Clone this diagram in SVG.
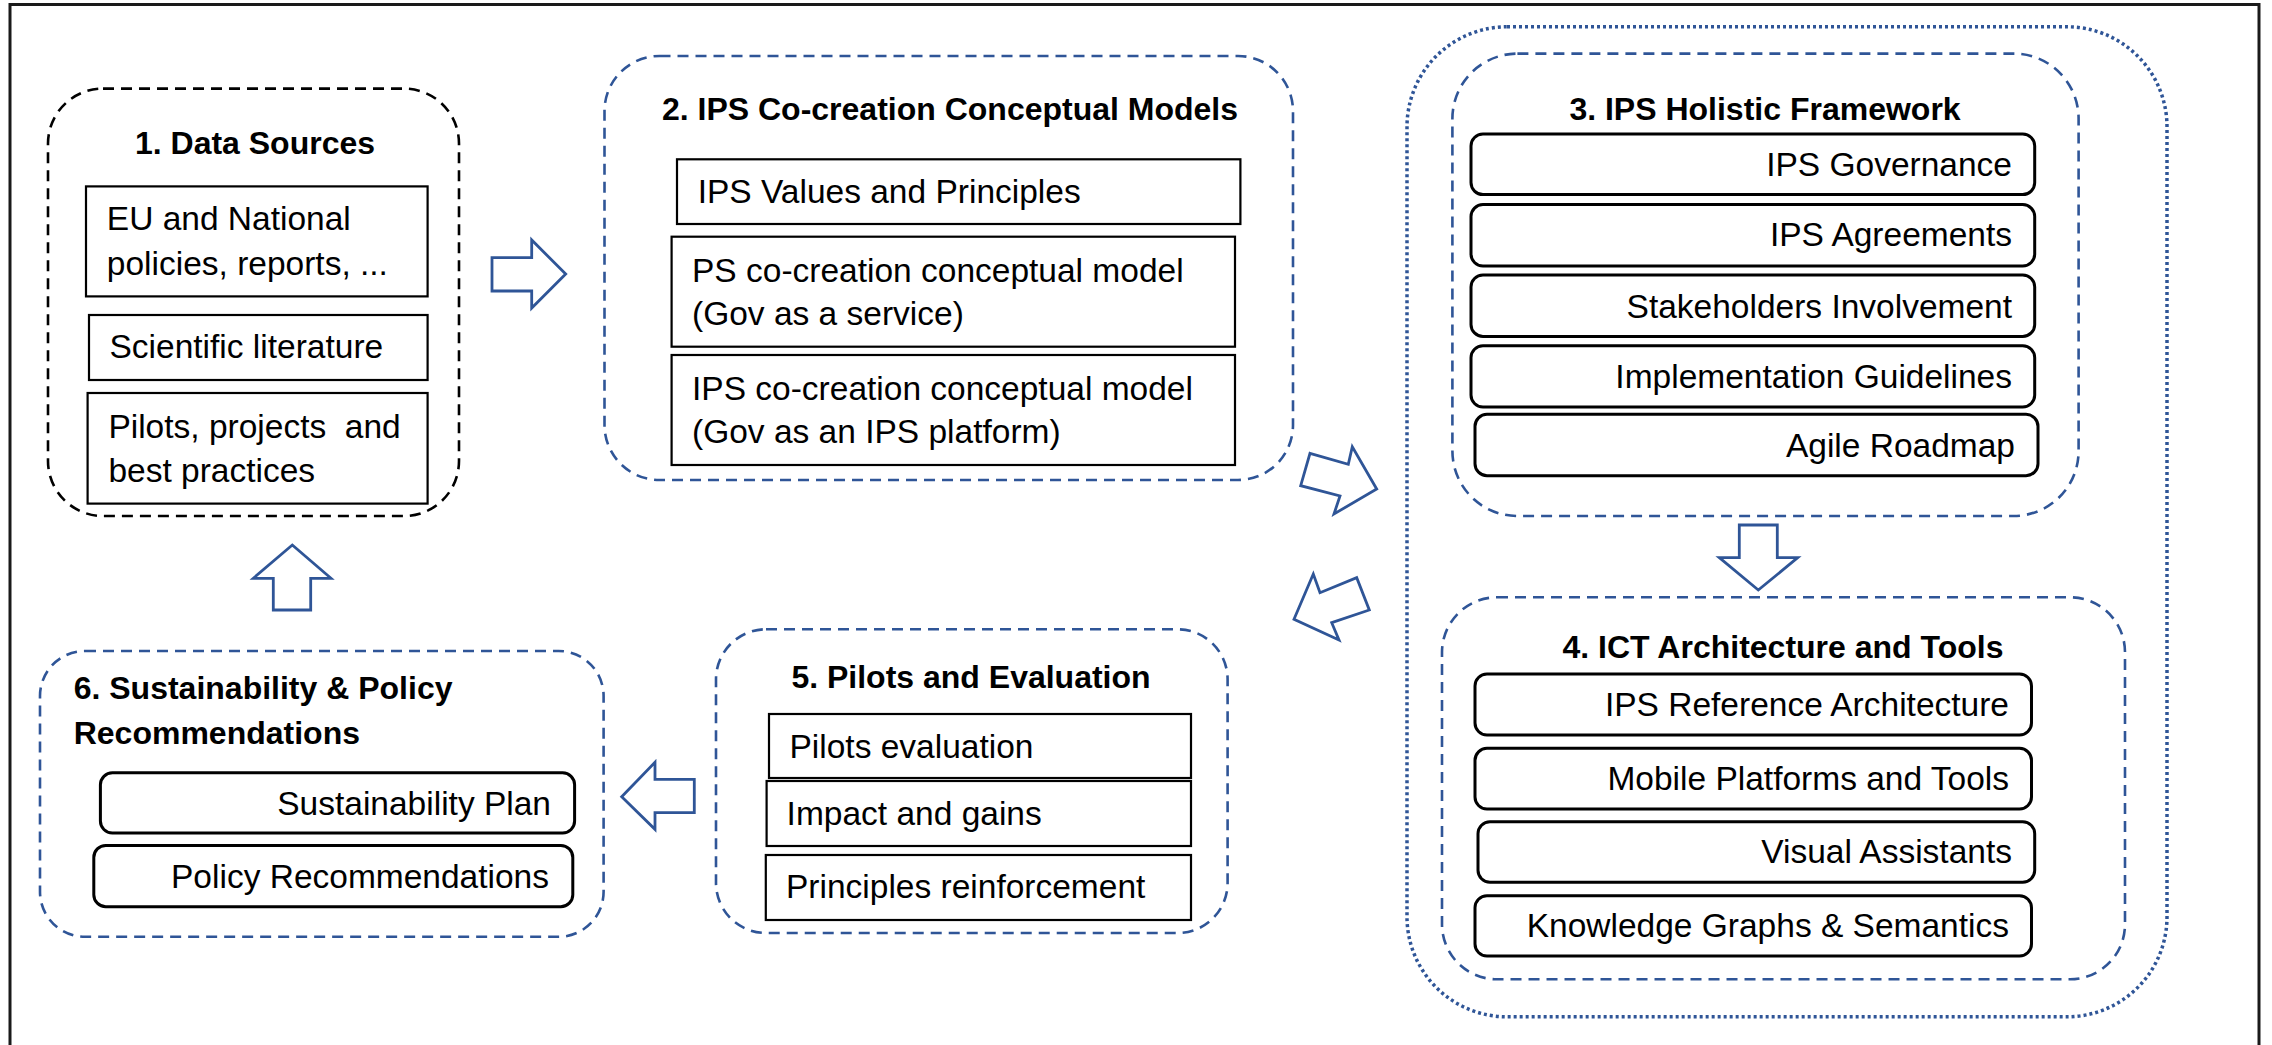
<svg xmlns="http://www.w3.org/2000/svg" width="2272" height="1045" viewBox="0 0 2272 1045">
<style>
.frame{fill:none;stroke:#1a1a1a;stroke-width:3}
.grp{fill:none;stroke:#2F5597;stroke-width:2.6;stroke-dasharray:11 7}
.grpk{fill:none;stroke:#000;stroke-width:2.6;stroke-dasharray:11 7}
.dotted{fill:none;stroke:#2F5597;stroke-width:3.5;stroke-dasharray:3 3}
.item{fill:#fff;stroke:#000;stroke-width:2.2}
.ritem{fill:#fff;stroke:#000;stroke-width:3}
.arrow{fill:#fff;stroke:#2F5597;stroke-width:2.8}
.title{font-family:"Liberation Sans",Arial,sans-serif;font-weight:bold;font-size:32px;fill:#000}
.body{font-family:"Liberation Sans",Arial,sans-serif;font-size:33.5px;fill:#000}
.end{text-anchor:end}
.mid{text-anchor:middle}
</style>
<rect width="2272" height="1045" fill="#fff"/>
<rect class="frame" x="10" y="4.5" width="2249" height="1100"/>

<g id="container-3-4">
<rect class="dotted" x="1407" y="26.8" width="760" height="990" rx="100"/>
</g>

<g id="node-1">
<rect class="grpk" x="48" y="88.6" width="411" height="427.4" rx="55"/>
<text class="title mid" x="255" y="153.6">1. Data Sources</text>
<rect class="item" x="86" y="186.4" width="341.6" height="110"/>
<text class="body" x="106.8" y="230">EU and National</text>
<text class="body" x="106.8" y="275">policies, reports, ...</text>
<rect class="item" x="89" y="315" width="338.6" height="65"/>
<text class="body" x="109.5" y="358">Scientific literature</text>
<rect class="item" x="87.6" y="393" width="340" height="110.6"/>
<text class="body" x="108.4" y="437.5" style="white-space:pre">Pilots, projects  and</text>
<text class="body" x="108.4" y="482">best practices</text>
</g>

<g id="node-2">
<rect class="grp" x="604.5" y="56" width="688.5" height="424" rx="55"/>
<text class="title mid" x="950" y="120">2. IPS Co-creation Conceptual Models</text>
<rect class="item" x="677" y="159.3" width="563.4" height="64.7"/>
<text class="body" x="697.7" y="203">IPS Values and Principles</text>
<rect class="item" x="671.6" y="236.7" width="563.4" height="110"/>
<text class="body" x="692" y="281.7">PS co-creation conceptual model</text>
<text class="body" x="692" y="325">(Gov as a service)</text>
<rect class="item" x="671.6" y="355" width="563.4" height="110"/>
<text class="body" x="692" y="400">IPS co-creation conceptual model</text>
<text class="body" x="692" y="443">(Gov as an IPS platform)</text>
</g>

<g id="node-3">
<rect class="grp" x="1452.4" y="53.6" width="626.2" height="462.4" rx="65"/>
<text class="title mid" x="1765" y="119.6">3. IPS Holistic Framework</text>
<rect class="ritem" x="1471" y="134" width="563.7" height="60.6" rx="12"/>
<text class="body end" x="2012" y="175.7">IPS Governance</text>
<rect class="ritem" x="1471" y="204.6" width="563.7" height="61.4" rx="12"/>
<text class="body end" x="2012" y="246.4">IPS Agreements</text>
<rect class="ritem" x="1471" y="275" width="563.7" height="61.4" rx="12"/>
<text class="body end" x="2012" y="317.9">Stakeholders Involvement</text>
<rect class="ritem" x="1471" y="345.7" width="563.7" height="61.3" rx="12"/>
<text class="body end" x="2012" y="387.5">Implementation Guidelines</text>
<rect class="ritem" x="1475" y="414.3" width="563" height="61.4" rx="12"/>
<text class="body end" x="2015" y="457">Agile Roadmap</text>
</g>

<g id="node-4">
<rect class="grp" x="1442" y="597.3" width="683" height="382" rx="55"/>
<text class="title mid" x="1783" y="658.3">4. ICT Architecture and Tools</text>
<rect class="ritem" x="1475" y="674" width="556.5" height="61" rx="12"/>
<text class="body end" x="2009" y="716">IPS Reference Architecture</text>
<rect class="ritem" x="1475" y="748.3" width="556.5" height="60.7" rx="12"/>
<text class="body end" x="2009" y="790">Mobile Platforms and Tools</text>
<rect class="ritem" x="1478" y="821.7" width="556.7" height="60.6" rx="12"/>
<text class="body end" x="2012" y="863.3">Visual Assistants</text>
<rect class="ritem" x="1475" y="895.7" width="556.5" height="60.3" rx="12"/>
<text class="body end" x="2009" y="937.3">Knowledge Graphs &amp; Semantics</text>
</g>

<g id="node-5">
<rect class="grp" x="716" y="629.3" width="511.6" height="303.7" rx="50"/>
<text class="title mid" x="971" y="688">5. Pilots and Evaluation</text>
<rect class="item" x="769" y="714" width="422" height="64"/>
<text class="body" x="789.5" y="758">Pilots evaluation</text>
<rect class="item" x="766.6" y="781" width="424.4" height="65"/>
<text class="body" x="786.6" y="825">Impact and gains</text>
<rect class="item" x="765.8" y="855" width="425.2" height="65"/>
<text class="body" x="786" y="898">Principles reinforcement</text>
</g>

<g id="node-6">
<rect class="grp" x="40" y="651" width="563.6" height="285.8" rx="45"/>
<text class="title" x="73.7" y="699">6. Sustainability &amp; Policy</text>
<text class="title" x="73.7" y="743.6">Recommendations</text>
<rect class="ritem" x="100.4" y="772.8" width="474.2" height="60.2" rx="12"/>
<text class="body end" x="551" y="814.6">Sustainability Plan</text>
<rect class="ritem" x="93.8" y="845.4" width="479" height="61.3" rx="12"/>
<text class="body end" x="549" y="888">Policy Recommendations</text>
</g>

<g id="connectors">
<polygon id="a1-2" class="arrow" points="492,257.7 531.7,257.7 531.7,240 565.7,274 531.7,308 531.7,291 492,291"/>
<polygon id="a2-3" class="arrow" points="1310,453.3 1348.3,464.3 1352.3,446.7 1376.7,489 1334,514 1340,496 1300.7,485.7"/>
<polygon id="a3-4" class="arrow" points="1739.3,525 1777.3,525 1777.3,557.7 1797.7,557.7 1758.3,590 1719.3,557.7 1739.3,557.7"/>
<polygon id="a4-5" class="arrow" points="1294,619.3 1313.3,574 1320,592.7 1356.7,577.7 1369.3,610 1331.7,622.7 1339,640"/>
<polygon id="a5-6" class="arrow" points="621.7,796.7 655,762.3 655,779.3 694.3,779.3 694.3,812.7 655,812.7 655,829.3"/>
<polygon id="a6-1" class="arrow" points="292.3,545 331,578.3 310.7,578.3 310.7,610 273.3,610 273.3,578.3 253.3,578.3"/>
</g>
</svg>
